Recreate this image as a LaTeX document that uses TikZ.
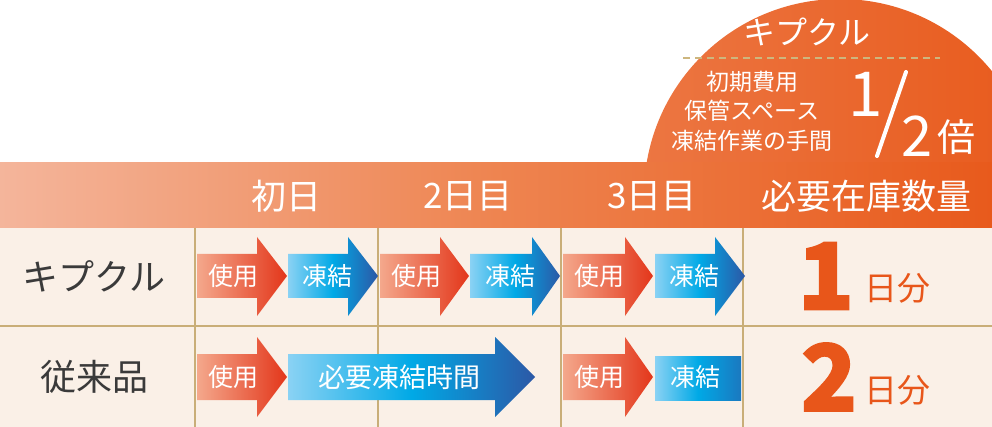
\documentclass[tikz,border=0pt]{standalone}
\usepackage{fontspec}
\setmainfont{Noto Sans CJK JP}
\definecolor{colBand}{HTML}{E85A1C}
\definecolor{colBandL}{HTML}{F4B59B}
\definecolor{colBandM}{HTML}{EE8450}
\definecolor{colBadgeL}{HTML}{EC7642}
\definecolor{colGrid}{HTML}{C9AE78}
\definecolor{colDash}{HTML}{CDB67E}
\definecolor{colBg}{HTML}{FAF0E7}
\definecolor{colUseL}{HTML}{F4A88C}
\definecolor{colUseR}{HTML}{E3361A}
\definecolor{colFrzL}{HTML}{8AD2F4}
\definecolor{colFrzM}{HTML}{00A9E6}
\definecolor{colFrzR}{HTML}{2C58A6}
\definecolor{colNum}{HTML}{E8561A}
\definecolor{colDark}{HTML}{3A3A3A}

\begin{document}
\begin{tikzpicture}[x=1pt, y=-1pt, every node/.style={inner sep=0pt, text=white},
    useArrow/.style={left color=colUseL, right color=colUseR},
    frzArrow/.style={left color=colFrzL, right color=colFrzR, middle color=colFrzM},
    hdText/.style={font=\fontsize{35}{36}\selectfont},
    rowText/.style={text=colDark, font=\fontsize{36}{38}\selectfont},
    arrText/.style={font=\fontsize{25}{27}\selectfont},
    badgeText/.style={font=\fontsize{23}{25}\selectfont},
    bigNum/.style={text=colNum, font=\fontsize{92}{96}\selectfont\bfseries\addfontfeature{FakeBold=2}},
    dayText/.style={text=colNum, font=\fontsize{33}{35}\selectfont}]
  \useasboundingbox (0,0) rectangle (992,427);
  \clip (0,0) rectangle (992,427);
  % Badge (half circle behind the band)
  \shade[left color=colBadgeL, right color=colBand] (840,195) circle[radius=196];
  \draw[colDash, line width=1.5, dash pattern=on 7pt off 5pt] (683,58) -- (940,58);
  \node[font=\fontsize{32}{34}\selectfont] (bdgName) at (807,32) {キプクル};
  \node[badgeText] (bdgCost) at (752,82) {初期費用};
  \node[badgeText] (bdgSpace) at (752,111) {保管スペース};
  \node[badgeText] (bdgWork) at (752,141) {凍結作業の手間};
  \node[font=\fontsize{62}{64}\selectfont] (halfOne) at (866,94) {1};
  \draw[white, line width=4, line cap=round] (906,72) -- (877,156);
  \node[font=\fontsize{56}{58}\selectfont] (halfTwo) at (917,136) {2};
  \node[font=\fontsize{38}{40}\selectfont] (halfBai) at (956,137) {倍};
  % Header band
  \shade[left color=colBandL, right color=colBand, middle color=colBandM] (0,163) rectangle (992,228);
  \node[hdText] (hdDay1) at (286,196) {初日};
  \node[hdText] (hdDay2) at (468,196) {2日目};
  \node[hdText] (hdDay3) at (652,196) {3日目};
  \node[hdText] (hdStock) at (866,196) {必要在庫数量};
  % Table body and grid
  \fill[colBg] (0,228) rectangle (992,427);
  \draw[colGrid, line width=2.5] (0,326) -- (992,326);
  \draw[colGrid, line width=2.5] (195,228) -- (195,427);
  \draw[colGrid, line width=2.5] (378,228) -- (378,427);
  \draw[colGrid, line width=2.5] (561,228) -- (561,427);
  \draw[colGrid, line width=2.5] (743,228) -- (743,427);
  \node[rowText] (rowKip) at (94,276) {キプクル};
  \node[rowText] (rowOld) at (94,377) {従来品};
  % Row 1 arrows
  \shade[useArrow] (197,254) -- (257,254) -- (257,237) -- (287,276) -- (257,316) -- (257,298) -- (197,298) -- cycle;
  \shade[frzArrow] (288,254) -- (348,254) -- (348,237) -- (378,276) -- (348,316) -- (348,298) -- (288,298) -- cycle;
  \shade[useArrow] (380,254) -- (440,254) -- (440,237) -- (469,276) -- (440,316) -- (440,298) -- (380,298) -- cycle;
  \shade[frzArrow] (470,254) -- (532,254) -- (532,237) -- (560,276) -- (532,316) -- (532,298) -- (470,298) -- cycle;
  \shade[useArrow] (563,254) -- (625,254) -- (625,237) -- (653,276) -- (625,316) -- (625,298) -- (563,298) -- cycle;
  \shade[frzArrow] (655,254) -- (715,254) -- (715,237) -- (745,276) -- (715,316) -- (715,298) -- (655,298) -- cycle;
  \node[arrText] (use11) at (233,276) {使用};
  \node[arrText] (frz11) at (327,276) {凍結};
  \node[arrText] (use12) at (416,276) {使用};
  \node[arrText] (frz12) at (510,276) {凍結};
  \node[arrText] (use13) at (599,276) {使用};
  \node[arrText] (frz13) at (694,276) {凍結};
  % Row 2 arrows
  \shade[useArrow] (197,354) -- (257,354) -- (257,337) -- (287,377) -- (257,417) -- (257,400) -- (197,400) -- cycle;
  \shade[frzArrow] (288,354) -- (495,354) -- (495,337) -- (535,377) -- (495,417) -- (495,400) -- (288,400) -- cycle;
  \shade[useArrow] (563,354) -- (625,354) -- (625,337) -- (653,377) -- (625,417) -- (625,400) -- (563,400) -- cycle;
  \shade[left color=colFrzL, right color=colFrzR!60!colFrzM, middle color=colFrzM] (655,356) rectangle (741,400);
  \node[arrText] (use21) at (233,377) {使用};
  \node[arrText, font=\fontsize{27}{29}\selectfont] (frzLong) at (399,377) {必要凍結時間};
  \node[arrText] (use23) at (599,377) {使用};
  \node[arrText] (frz23) at (695,377) {凍結};
  % Stock column
  \node[bigNum] (stockOne) at (826,276) {1};
  \node[dayText] (dayOne) at (897,288) {日分};
  \node[bigNum] (stockTwo) at (829,377) {2};
  \node[dayText] (dayTwo) at (897,390) {日分};
\end{tikzpicture}
\end{document}
